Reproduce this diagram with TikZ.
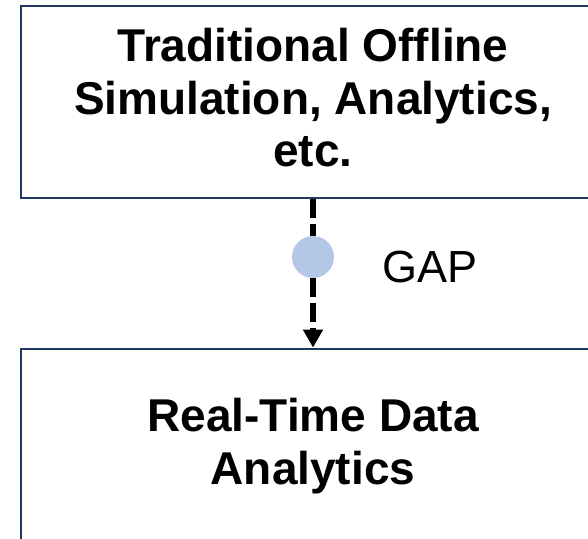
\documentclass[tikz,border=0pt]{standalone}
\usepackage{fontspec}
\setmainfont{Liberation Sans}
\usetikzlibrary{arrows.meta}
\definecolor{boxline}{HTML}{203864}
\definecolor{dotfill}{HTML}{B4C7E7}
\tikzset{
  stagebox/.style={draw=boxline, line width=2.8pt, rectangle, align=center,
    minimum width=584pt, inner sep=0pt,
    font=\fontsize{46}{52.5}\selectfont\bfseries},
  gapline/.style={line width=6pt, dash pattern=on 18.3pt off 6.7pt},
  gaparrow/.style={gapline, -{Triangle[width=19pt,length=18pt]}},
  gapdot/.style={circle, fill=dotfill, minimum size=42pt, inner sep=0pt},
  gaplabel/.style={font=\fontsize{45}{52}\selectfont, inner sep=0pt}
}
\begin{document}
\begin{tikzpicture}[x=1pt,y=-1pt]
  \useasboundingbox (0,0) rectangle (588,538);
  \begin{scope}
    \clip (0,0) rectangle (588,538);
    \node[stagebox, minimum height=192pt, text depth=9pt] (offline) at (313,102)
      {Traditional Offline\\Simulation, Analytics,\\etc.};
    \node[stagebox, minimum height=194pt] (realtime) at (313,446)
      {Real-Time Data\\Analytics};
  \end{scope}
  % the gap marker sits on the dashed link between the two stages
  \node[gapdot] (dot) at (313,257) {};
  \draw[gapline] (offline.south) -- (dot.north);
  \draw[gaparrow] (dot.south) -- (realtime.north);
  \node[gaplabel, anchor=base west] (gap) at (382,282) {GAP};
\end{tikzpicture}
\end{document}
